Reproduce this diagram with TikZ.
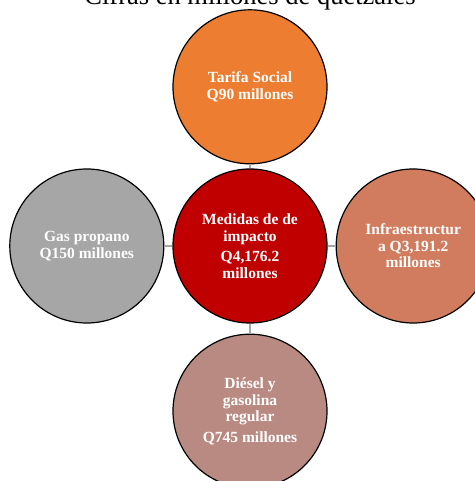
\documentclass[tikz,border=0pt]{standalone}
\usepackage{fontspec}
\setmainfont{Liberation Serif}
\usepackage{tikz}
\usetikzlibrary{positioning}
\definecolor{naranja}{HTML}{ED7D31}
\definecolor{rojo}{HTML}{C00000}
\definecolor{terracota}{HTML}{D17C5E}
\definecolor{rosado}{HTML}{B98A82}
\definecolor{gris}{HTML}{A6A6A6}

\begin{document}
\begin{tikzpicture}[
		every node/.style={font=\bfseries\fontsize{15.5}{16.5}\selectfont},
		burbuja/.style={circle,draw=black,line width=1.2pt,minimum size=154pt,
			inner sep=0pt,text=white,align=center},
		enlace/.style={draw=gray!70,line width=1.5pt}]
		\useasboundingbox (-250pt,-235pt) rectangle (224pt,246pt);
		\node[burbuja,fill=rojo] (med) at (0,0)
			{Medidas de de\\impacto\\[4pt]Q4,176.2\\millones};
		\node[burbuja,fill=naranja,above=4pt of med] (tar)
			{Tarifa Social\\Q90 millones};
		\node[burbuja,fill=terracota,right=8pt of med] (inf)
			{Infraestructur\\a Q3,191.2\\millones};
		\node[burbuja,fill=rosado,below=10pt of med] (die)
			{Di\'esel y\\gasolina\\regular\\[4pt]Q745 millones};
		\node[burbuja,fill=gris,left=8pt of med] (gas)
			{Gas propano\\Q150 millones};
		
		\path[enlace] (med) -- (tar);
		\path[enlace] (med) -- (inf);
		\path[enlace] (med) -- (die);
		\path[enlace] (med) -- (gas);
		
		\node[anchor=base,font=\fontsize{26.5}{28}\selectfont] (tit) at (0,241pt)
			{Cifras en millones de quetzales};
	\end{tikzpicture}
\end{document}
